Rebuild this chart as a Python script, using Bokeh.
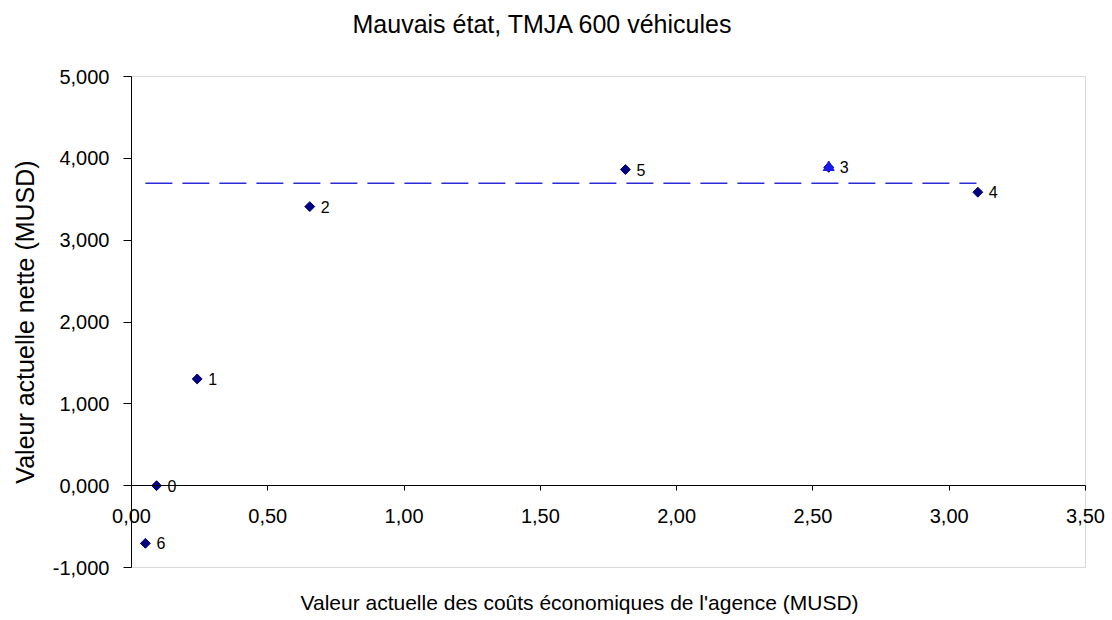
import math
from bokeh.plotting import figure
from bokeh.models import (Range1d, FixedTicker, CustomJSTickFormatter,
                          ColumnDataSource, Label, BoxAnnotation)
from bokeh.core.properties import value
from bokeh.embed import file_html
from bokeh.resources import INLINE

title_text = "Mauvais état, TMJA 600 véhicules"
x_label = "Valeur actuelle des coûts économiques de l'agence (MUSD)"
y_label = "Valeur actuelle nette (MUSD)"

point_names = ["0", "1", "2", "3", "4", "5", "6"]
cost_x = [0.092, 0.241, 0.654, 2.558, 3.105, 1.812, 0.051]
npv_y = [0.000, 1.304, 3.410, 3.890, 3.586, 3.863, -0.705]

best_x = [2.558]
best_y = [3.890]

threshold_x = [0.051, 3.100]
threshold_y = [3.694, 3.694]

x_ticks = [0.0, 0.5, 1.0, 1.5, 2.0, 2.5, 3.0, 3.5]
y_ticks = [-1.0, 0.0, 1.0, 2.0, 3.0, 4.0, 5.0]
x_bounds = (0.0, 3.5)
y_bounds = (-1.0, 5.0)

FONT = "Liberation Sans"

# canvas geometry: plot area spans 131..1085 px horizontally and 76..567 px vertically
W, H = 1108, 616
LEFT, RIGHT, TOP, BOTTOM = 131, 1085, 76, 567
xs = (RIGHT - LEFT) / (x_bounds[1] - x_bounds[0])
ys = (BOTTOM - TOP) / (y_bounds[1] - y_bounds[0])
x_range = Range1d(x_bounds[0] - LEFT / xs, x_bounds[1] + (W - RIGHT) / xs)
y_range = Range1d(y_bounds[0] - (H - BOTTOM) / ys, y_bounds[1] + TOP / ys)

p = figure(width=W, height=H, title=None, x_range=x_range, y_range=y_range,
           output_backend="svg", toolbar_location=None, min_border=0,
           min_border_left=0, min_border_right=0, min_border_top=0, min_border_bottom=0)
p.background_fill_color = "white"
p.border_fill_color = "white"
p.outline_line_color = None
p.xgrid.visible = False
p.ygrid.visible = False

# plot-area border
box = BoxAnnotation(left=x_bounds[0], right=x_bounds[1], bottom=y_bounds[0], top=y_bounds[1],
                    fill_color=None, line_color="#808080", line_width=1, level="underlay")
p.add_layout(box)

# x axis crossing at y = 0
xa = p.xaxis[0]
xa.fixed_location = 0
xa.bounds = x_bounds
xa.ticker = FixedTicker(ticks=x_ticks)
xa.formatter = CustomJSTickFormatter(code="return tick.toFixed(2).replace('.', ',');")
xa.major_tick_in = 0
xa.major_tick_out = 5
xa.minor_tick_line_color = None
xa.axis_line_color = "#000000"
xa.major_tick_line_color = "#000000"
xa.major_label_standoff = 18
xa.major_label_text_font = FONT
xa.major_label_text_font_size = "20px"
xa.major_label_text_color = "#000000"

# y axis at x = 0
ya = p.yaxis[0]
ya.fixed_location = 0
ya.bounds = y_bounds
ya.ticker = FixedTicker(ticks=y_ticks)
ya.formatter = CustomJSTickFormatter(code="return tick.toFixed(3).replace('.', ',');")
ya.major_tick_in = 0
ya.major_tick_out = 8
ya.minor_tick_line_color = None
ya.axis_line_color = "#000000"
ya.major_tick_line_color = "#000000"
ya.major_label_standoff = 14
ya.major_label_text_font = FONT
ya.major_label_text_font_size = "20px"
ya.major_label_text_color = "#000000"
ya.axis_label = y_label
ya.axis_label_standoff = 11
ya.axis_label_text_font = FONT
ya.axis_label_text_font_size = "25px"
ya.axis_label_text_font_style = "normal"
ya.axis_label_text_color = "#000000"

# chart title and x-axis title (screen units from the bottom-left corner)
p.add_layout(Label(x=352, y=H - 23, x_units="screen", y_units="screen", text=title_text,
                   text_align="left", text_baseline="middle",
                   text_font=FONT, text_font_size="25px", text_color="#000000"))
p.add_layout(Label(x=300, y=H - 602, x_units="screen", y_units="screen", text=x_label,
                   text_align="left", text_baseline="middle",
                   text_font=FONT, text_font_size="21px", text_color="#000000"))

src = ColumnDataSource(data=dict(x=cost_x, y=npv_y, name=point_names))

p.line(threshold_x, threshold_y, line_dash="27 10", line_color="#2a2ad8", line_width=1.5)
p.scatter("x", "y", source=src, marker="square", angle=math.pi / 4, size=7,
          fill_color="#000080", line_color="#000080")
p.scatter(best_x, best_y, marker="triangle", size=11,
          fill_color="#1a1aee", line_color="#1a1aee")
p.text("x", "y", text="name", source=src, x_offset=11, text_baseline="middle",
       text_font=value(FONT), text_font_size="16px", text_color="#000000")

open("out.html", "w").write(file_html(p, INLINE))
